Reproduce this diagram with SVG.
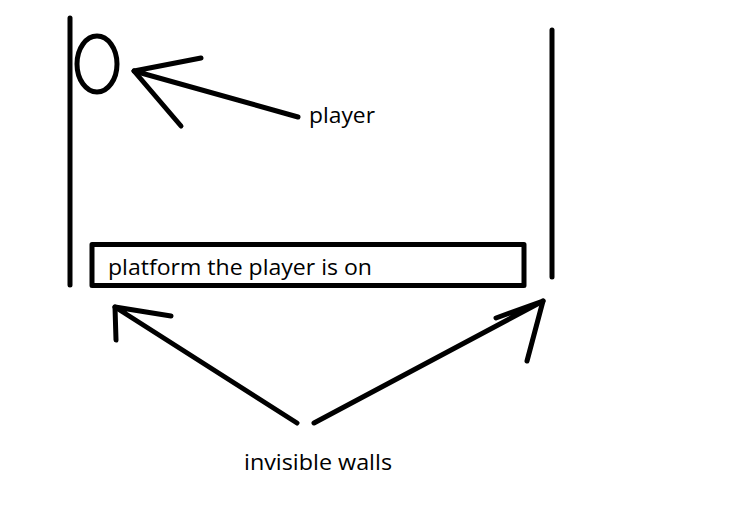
<svg xmlns="http://www.w3.org/2000/svg" width="745" height="518" viewBox="0 0 745 518">
<style>
.s{fill:none;stroke:#000;stroke-width:5;stroke-linecap:round;stroke-linejoin:round}
.t{font-family:"Open Sans","Noto Sans","Liberation Sans",sans-serif;font-size:22px;fill:#000}
</style>
<rect width="745" height="518" fill="#fff"/>
<g id="left-wall"><line class="s" x1="70" y1="18" x2="70" y2="285"/></g>
<g id="right-wall"><line class="s" x1="552" y1="30" x2="552" y2="277"/></g>
<g id="player-node"><ellipse class="s" cx="97" cy="64" rx="20" ry="28"/></g>
<g id="platform"><rect class="s" x="92" y="244.5" width="432" height="41" stroke-linejoin="miter"/>
<text class="t" x="108" y="275" textLength="264" lengthAdjust="spacingAndGlyphs">platform the player is on</text></g>
<g id="player-label"><text class="t" x="309" y="123" textLength="66" lengthAdjust="spacingAndGlyphs">player</text></g>
<g id="walls-label"><text class="t" x="244" y="470" textLength="148" lengthAdjust="spacingAndGlyphs">invisible walls</text></g>
<g id="connectors">
<polyline class="s" points="298,117 134,71 201,58"/>
<line class="s" x1="134" y1="71" x2="181" y2="126"/>
<polyline class="s" points="297,423 115,307 171,316"/>
<line class="s" x1="115" y1="307" x2="116" y2="340"/>
<polyline class="s" points="314,423 543,301 496,318"/>
<line class="s" x1="543" y1="301" x2="527" y2="361"/>
</g>
</svg>
